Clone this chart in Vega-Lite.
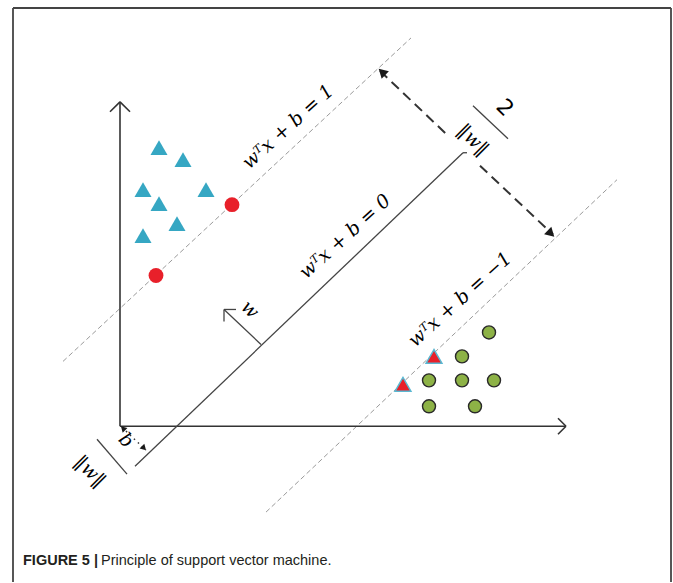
{
  "$schema": "https://vega.github.io/schema/vega-lite/v6.json",
  "width": 673,
  "height": 583,
  "autosize": {"type": "fit", "contains": "padding"},
  "padding": 0,
  "background": "white",
  "config": {"view": {"stroke": null}},
  "datasets": {
    "frame": [
      {"x": -10.7, "y": 41.9, "x2": -10.7, "y2": -15.6},
      {"x": -10.7, "y": 41.9, "x2": 55.1, "y2": 41.9},
      {"x": 55.1, "y": 41.9, "x2": 55.1, "y2": -15.6}
    ],
    "axes": [
      {"x": 0, "y": 0, "x2": 0, "y2": 32.5},
      {"x": 0, "y": 32.5, "x2": -1, "y2": 31.5},
      {"x": 0, "y": 32.5, "x2": 1, "y2": 31.5},
      {"x": 0, "y": 0, "x2": 44.6, "y2": 0},
      {"x": 44.6, "y": 0, "x2": 43.8, "y2": 0.8},
      {"x": 44.6, "y": 0, "x2": 43.8, "y2": -0.8}
    ],
    "solid": [
      {"x": 1.5, "y": -4.0, "x2": 34.3, "y2": 27.4},
      {"x": 34.3, "y": 27.4, "x2": 34.7, "y2": 27.4},
      {"x": 14.1, "y": 8.2, "x2": 10.4, "y2": 11.7},
      {"x": 10.4, "y": 11.7, "x2": 10.4, "y2": 10.5},
      {"x": 10.4, "y": 11.7, "x2": 11.6, "y2": 11.7},
      {"x": 35.3, "y": 32.1, "x2": 38.8, "y2": 28.8},
      {"x": -2.3, "y": -1.3, "x2": 0.7, "y2": -4.8}
    ],
    "margins": [
      {"x": -5.7, "y": 6.5, "x2": 29.1, "y2": 38.9},
      {"x": 14.6, "y": -8.6, "x2": 49.7, "y2": 24.7}
    ],
    "gap": [
      {"x": 26.0, "y": 35.6, "x2": 32.6, "y2": 29.3},
      {"x": 36.0, "y": 26.1, "x2": 43.3, "y2": 19.2}
    ],
    "offset": [
      {"x": 0.2, "y": -0.1, "x2": 2.6, "y2": -2.4}
    ],
    "heads": [
      {"x": 26.2, "y": 35.5, "dir": "up", "kind": "gap"},
      {"x": 43.1, "y": 19.3, "dir": "down", "kind": "gap"},
      {"x": 0.3, "y": -0.2, "dir": "up", "kind": "offset"},
      {"x": 2.4, "y": -2.2, "dir": "down", "kind": "offset"}
    ],
    "classA": [
      {"x": 3.9, "y": 27.9}, {"x": 6.3, "y": 26.7}, {"x": 2.3, "y": 23.7},
      {"x": 8.6, "y": 23.7}, {"x": 3.9, "y": 22.3}, {"x": 5.7, "y": 20.3},
      {"x": 2.3, "y": 19.1}
    ],
    "svA": [{"x": 3.6, "y": 15.1}, {"x": 11.2, "y": 22.2}],
    "svB": [{"x": 28.3, "y": 4.2}, {"x": 31.4, "y": 7.0}],
    "classB": [
      {"x": 36.9, "y": 9.4}, {"x": 34.2, "y": 7.0}, {"x": 30.9, "y": 4.6},
      {"x": 34.2, "y": 4.6}, {"x": 37.4, "y": 4.6}, {"x": 30.9, "y": 2.0},
      {"x": 35.5, "y": 2.0}
    ],
    "eqs": [
      {"x": 16.8, "y": 30.0, "text": "wᵀx + b = 1"},
      {"x": 22.5, "y": 19.0, "text": "wᵀx + b = 0"},
      {"x": 34.0, "y": 12.7, "text": "wᵀx + b = −1"}
    ],
    "fracs": [
      {"x": 38.5, "y": 31.9, "text": "2", "role": "num"},
      {"x": 35.3, "y": 28.7, "text": "‖w‖", "role": "sym"},
      {"x": 0.6, "y": -1.4, "text": "b", "role": "sym"},
      {"x": -3.0, "y": -4.5, "text": "‖w‖", "role": "sym"},
      {"x": 13.0, "y": 11.7, "text": "w", "role": "sym"}
    ],
    "caption": [
      {"x": -9.7, "y": -13.9, "text": "FIGURE 5 |", "part": "label"},
      {"x": -1.9, "y": -13.9, "text": "Principle of support vector machine.", "part": "body"}
    ]
  },
  "encoding": {
    "x": {"field": "x", "type": "quantitative", "scale": {"domain": [-12, 55.3], "nice": false, "zero": false}, "axis": null},
    "y": {"field": "y", "type": "quantitative", "scale": {"domain": [-15.6, 42.7], "nice": false, "zero": false}, "axis": null}
  },
  "layer": [
    {"data": {"name": "frame"}, "mark": {"type": "rule", "color": "#444", "strokeWidth": 1.8},
     "encoding": {"x2": {"field": "x2"}, "y2": {"field": "y2"}}},
    {"data": {"name": "margins"}, "mark": {"type": "rule", "color": "#9a9a9a", "strokeWidth": 1, "strokeDash": [5, 3]},
     "encoding": {"x2": {"field": "x2"}, "y2": {"field": "y2"}}},
    {"data": {"name": "axes"}, "mark": {"type": "rule", "color": "#333", "strokeWidth": 1.6},
     "encoding": {"x2": {"field": "x2"}, "y2": {"field": "y2"}}},
    {"data": {"name": "solid"}, "mark": {"type": "rule", "color": "#444", "strokeWidth": 1.3},
     "encoding": {"x2": {"field": "x2"}, "y2": {"field": "y2"}}},
    {"data": {"name": "gap"}, "mark": {"type": "rule", "color": "#333", "strokeWidth": 2, "strokeDash": [10, 6]},
     "encoding": {"x2": {"field": "x2"}, "y2": {"field": "y2"}}},
    {"data": {"name": "offset"}, "mark": {"type": "rule", "color": "#333", "strokeWidth": 1.5, "strokeDash": [1.5, 4]},
     "encoding": {"x2": {"field": "x2"}, "y2": {"field": "y2"}}},
    {"data": {"name": "heads"}, "transform": [{"filter": "datum.kind === 'gap' && datum.dir === 'down'"}],
     "mark": {"type": "point", "shape": "triangle-up", "filled": true, "color": "#1a1a1a", "size": 110, "angle": 133.5, "opacity": 1}},
    {"data": {"name": "heads"}, "transform": [{"filter": "datum.kind === 'gap' && datum.dir === 'up'"}],
     "mark": {"type": "point", "shape": "triangle-up", "filled": true, "color": "#1a1a1a", "size": 110, "angle": -46.5, "opacity": 1}},
    {"data": {"name": "heads"}, "transform": [{"filter": "datum.kind === 'offset' && datum.dir === 'down'"}],
     "mark": {"type": "point", "shape": "triangle-up", "filled": true, "color": "#1a1a1a", "size": 45, "angle": 135, "opacity": 1}},
    {"data": {"name": "heads"}, "transform": [{"filter": "datum.kind === 'offset' && datum.dir === 'up'"}],
     "mark": {"type": "point", "shape": "triangle-up", "filled": true, "color": "#1a1a1a", "size": 45, "angle": -45, "opacity": 1}},
    {"data": {"name": "classA"},
     "mark": {"type": "point", "shape": "triangle-up", "filled": true, "color": "#36a7c3", "size": 290, "opacity": 1}},
    {"data": {"name": "svA"},
     "mark": {"type": "point", "shape": "circle", "filled": true, "color": "#e8202a", "size": 220, "opacity": 1}},
    {"data": {"name": "svB"},
     "mark": {"type": "point", "shape": "triangle-up", "filled": true, "fill": "#e8202a", "stroke": "#5ab8d2", "strokeWidth": 1.5, "size": 250, "opacity": 1}},
    {"data": {"name": "classB"},
     "mark": {"type": "point", "shape": "circle", "filled": true, "fill": "#8db246", "stroke": "#2a2a2a", "strokeWidth": 1.4, "size": 170, "opacity": 1}},
    {"data": {"name": "eqs"},
     "mark": {"type": "text", "font": "DejaVu Serif", "fontStyle": "italic", "fontSize": 19, "angle": -42, "align": "center", "baseline": "middle", "color": "#000"},
     "encoding": {"text": {"field": "text"}}},
    {"data": {"name": "fracs"}, "transform": [{"filter": "datum.role === 'sym'"}],
     "mark": {"type": "text", "font": "DejaVu Serif", "fontStyle": "italic", "fontSize": 19, "angle": 45, "align": "center", "baseline": "middle", "color": "#000"},
     "encoding": {"text": {"field": "text"}}},
    {"data": {"name": "fracs"}, "transform": [{"filter": "datum.role === 'num'"}],
     "mark": {"type": "text", "font": "DejaVu Sans", "fontSize": 22, "angle": 45, "align": "center", "baseline": "middle", "color": "#000"},
     "encoding": {"text": {"field": "text"}}},
    {"data": {"name": "caption"}, "transform": [{"filter": "datum.part === 'label'"}],
     "mark": {"type": "text", "font": "Liberation Sans", "fontWeight": "bold", "fontSize": 14.5, "align": "left", "baseline": "alphabetic", "color": "#231f20"},
     "encoding": {"text": {"field": "text"}}},
    {"data": {"name": "caption"}, "transform": [{"filter": "datum.part === 'body'"}],
     "mark": {"type": "text", "font": "Liberation Sans", "fontSize": 14.5, "align": "left", "baseline": "alphabetic", "color": "#231f20"},
     "encoding": {"text": {"field": "text"}}}
  ]
}
